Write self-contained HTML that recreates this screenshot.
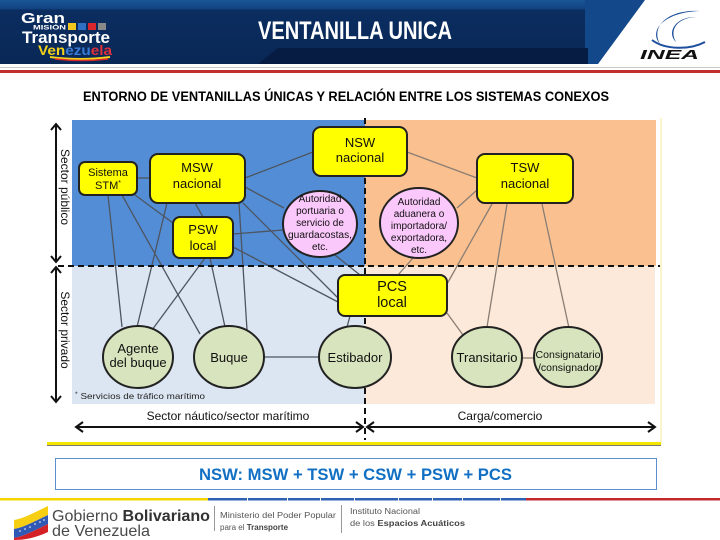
<!DOCTYPE html>
<html><head><meta charset="utf-8"><style>
html,body{margin:0;padding:0;background:#fff;}
svg{display:block;}
text{font-family:"Liberation Sans",sans-serif;}
</style></head><body>
<svg width="720" height="540" viewBox="0 0 720 540" xmlns="http://www.w3.org/2000/svg">
<defs>
<linearGradient id="hdr" x1="0" y1="0" x2="0" y2="1">
<stop offset="0" stop-color="#1a5596"/><stop offset="0.13" stop-color="#124583"/><stop offset="0.16" stop-color="#0b2d60"/><stop offset="1" stop-color="#092856"/>
</linearGradient>
</defs>
<rect x="0" y="0" width="720" height="540" fill="#fff"/>
<!-- Header -->
<rect x="0" y="0" width="720" height="64" fill="url(#hdr)"/>
<polygon points="585,0 650,0 600,64 585,64" fill="#13498a"/>
<polygon points="258,64 278,48 588,48 588,64" fill="#061c42"/>
<polygon points="645,0 720,0 720,64 598,64" fill="#fff"/>
<rect x="0" y="67" width="720" height="1" fill="#ccc"/>
<rect x="0" y="70" width="720" height="3" fill="#c0302f"/>
<!-- left logo -->
<text x="21" y="23" font-size="15" font-weight="bold" fill="#fff" textLength="44" lengthAdjust="spacingAndGlyphs">Gran</text>
<text x="33" y="29.5" font-size="6" font-weight="bold" fill="#fff" textLength="33" lengthAdjust="spacingAndGlyphs">MISIÓN</text>
<rect x="68" y="23" width="8" height="7" fill="#f2c81e"/>
<rect x="78" y="23" width="8" height="7" fill="#2f6fc4"/>
<rect x="88" y="23" width="8" height="7" fill="#d8262c"/>
<rect x="98" y="23" width="8" height="7" fill="#888"/>
<text x="22" y="43" font-size="17" font-weight="bold" fill="#fff" textLength="88" lengthAdjust="spacingAndGlyphs">Transporte</text>
<text x="38" y="55" font-size="14" font-weight="bold" textLength="74" lengthAdjust="spacingAndGlyphs"><tspan fill="#f2d21a">Ven</tspan><tspan fill="#3a7bd5">ezu</tspan><tspan fill="#e0303a">ela</tspan></text>
<path d="M50,57 Q80,61 110,57" stroke="#f2d21a" stroke-width="2" fill="none"/>
<path d="M55,59 Q82,62 108,59" stroke="#d8262c" stroke-width="1.5" fill="none"/>
<!-- title -->
<text x="258" y="39" font-size="25" font-weight="bold" fill="#fff" textLength="194" lengthAdjust="spacingAndGlyphs">VENTANILLA UNICA</text>
<!-- INEA logo -->
<path d="M700,11 C670,9 650,25 660,44 C648,30 665,12 700,11 Z" fill="#1d4f9c"/>
<path d="M697,17 C680,17 668,28 676,42 C666,32 676,16 697,17 Z" fill="#1d4f9c"/>
<path d="M652,40 C665,50 690,50 705,42" stroke="#1d4f9c" stroke-width="2" fill="none"/>
<text x="640" y="59" font-size="13" font-weight="bold" font-style="italic" fill="#111" textLength="59" lengthAdjust="spacingAndGlyphs">INEA</text>

<!-- subtitle -->
<text x="83" y="101" font-size="13.5" font-weight="bold" fill="#000" textLength="526" lengthAdjust="spacingAndGlyphs">ENTORNO DE VENTANILLAS ÚNICAS Y RELACIÓN ENTRE LOS SISTEMAS CONEXOS</text>

<!-- diagram regions -->
<rect x="72" y="120" width="293" height="146" fill="#538dd5"/>
<rect x="365" y="120" width="291" height="146" fill="#fac090"/>
<rect x="72" y="266" width="293" height="138" fill="#dce6f2"/>
<rect x="365" y="266" width="290" height="138" fill="#fde9d9"/>
<line x1="661" y1="118" x2="661" y2="444" stroke="#f3ea9a" stroke-width="1"/>

<!-- connectors -->
<g stroke="#4d5560" stroke-width="1.3" fill="none">
<line x1="137" y1="178" x2="150" y2="178"/>
<line x1="245" y1="178" x2="313" y2="152"/>
<line x1="245" y1="187" x2="284" y2="208"/>
<line x1="233" y1="234" x2="283" y2="230"/>
<line x1="108" y1="195" x2="122" y2="327"/>
<line x1="122" y1="195" x2="200" y2="334"/>
<line x1="135" y1="195" x2="173" y2="223"/>
<line x1="167" y1="203" x2="137" y2="327"/>
<line x1="195" y1="203" x2="203" y2="217"/>
<line x1="239" y1="203" x2="247" y2="330"/>
<line x1="243" y1="203" x2="338" y2="298"/>
<line x1="233" y1="247" x2="338" y2="302"/>
<line x1="205" y1="258" x2="152" y2="330"/>
<line x1="210" y1="258" x2="225" y2="327"/>
<line x1="335" y1="255" x2="360" y2="275"/>
<line x1="350" y1="316" x2="347" y2="327"/>
<line x1="264" y1="357" x2="319" y2="357"/>
</g>
<g stroke="#8a7e74" stroke-width="1.3" fill="none">
<line x1="407" y1="152" x2="477" y2="178"/>
<line x1="477" y1="190" x2="457" y2="208"/>
<line x1="413" y1="258" x2="398" y2="275"/>
<line x1="492" y1="204" x2="447" y2="284"/>
<line x1="507" y1="204" x2="487" y2="327"/>
<line x1="542" y1="204" x2="569" y2="328"/>
<line x1="447" y1="313" x2="463" y2="335"/>
<line x1="523" y1="358" x2="534" y2="358"/>
</g>

<!-- dashed separators -->
<line x1="58" y1="266" x2="660" y2="266" stroke="#111" stroke-width="2" stroke-dasharray="6,4"/>
<line x1="365" y1="118" x2="365" y2="440" stroke="#111" stroke-width="2" stroke-dasharray="6,4"/>

<!-- yellow boxes -->
<g fill="#ffff00" stroke="#222" stroke-width="2">
<rect x="79" y="162" width="58" height="33" rx="6"/>
<rect x="150" y="154" width="95" height="49" rx="8"/>
<rect x="173" y="217" width="60" height="41" rx="7"/>
<rect x="313" y="127" width="94" height="49" rx="8"/>
<rect x="477" y="154" width="96" height="49" rx="8"/>
<rect x="338" y="275" width="109" height="41" rx="7"/>
</g>
<g font-size="11" fill="#111" text-anchor="middle">
<text x="108" y="176">Sistema</text>
<text x="108" y="189">STM<tspan font-size="7" dy="-4">*</tspan></text>
</g>
<g font-size="13" fill="#111" text-anchor="middle">
<text x="197" y="172">MSW</text>
<text x="197" y="188">nacional</text>
<text x="203" y="234">PSW</text>
<text x="203" y="250">local</text>
<text x="360" y="147">NSW</text>
<text x="360" y="162">nacional</text>
<text x="525" y="172">TSW</text>
<text x="525" y="188">nacional</text>
</g>
<g font-size="14.5" fill="#111" text-anchor="middle">
<text x="392" y="291">PCS</text>
<text x="392" y="307">local</text>
</g>

<!-- pink circles -->
<g fill="#fbc8fb" stroke="#222" stroke-width="2">
<ellipse cx="320" cy="224" rx="37" ry="33"/>
<ellipse cx="419" cy="223" rx="39" ry="35"/>
</g>
<g font-size="10" fill="#111" text-anchor="middle">
<text x="320" y="202">Autoridad</text>
<text x="320" y="214">portuaria o</text>
<text x="320" y="226">servicio de</text>
<text x="320" y="238" textLength="64" lengthAdjust="spacingAndGlyphs">guardacostas,</text>
<text x="320" y="250">etc.</text>
<text x="419" y="205">Autoridad</text>
<text x="419" y="217">aduanera o</text>
<text x="419" y="229">importadora/</text>
<text x="419" y="241">exportadora,</text>
<text x="419" y="253">etc.</text>
</g>

<!-- green ellipses -->
<g fill="#d7e4bd" stroke="#222" stroke-width="2">
<ellipse cx="138" cy="357" rx="35" ry="31"/>
<ellipse cx="229" cy="357" rx="35" ry="31"/>
<ellipse cx="355" cy="357" rx="36" ry="31"/>
<ellipse cx="487" cy="357" rx="35" ry="30"/>
<ellipse cx="568" cy="357" rx="34" ry="30"/>
</g>
<g font-size="13" fill="#111" text-anchor="middle">
<text x="138" y="353">Agente</text>
<text x="138" y="367">del buque</text>
<text x="229" y="362">Buque</text>
<text x="355" y="362">Estibador</text>
<text x="487" y="362">Transitario</text>
</g>
<g font-size="10.5" fill="#111" text-anchor="middle">
<text x="568" y="358" textLength="65" lengthAdjust="spacingAndGlyphs">Consignatario</text>
<text x="568" y="371">/consignador</text>
</g>

<text x="75" y="399" font-size="8.5" fill="#222" textLength="130" lengthAdjust="spacingAndGlyphs"><tspan font-size="6" dy="-3">*</tspan><tspan dy="3"> Servicios de tráfico marítimo</tspan></text>

<!-- arrows -->
<g stroke="#111" stroke-width="2" fill="none">
<line x1="56" y1="124" x2="56" y2="262"/>
<polyline points="51,130 56,124 61,130"/>
<polyline points="51,256 56,262 61,256"/>
<line x1="56" y1="267" x2="56" y2="402"/>
<polyline points="51,273 56,267 61,273"/>
<polyline points="51,396 56,402 61,396"/>
<line x1="76" y1="427" x2="363" y2="427"/>
<polyline points="83,422 76,427 83,432"/>
<polyline points="356,422 363,427 356,432"/>
<line x1="367" y1="427" x2="655" y2="427"/>
<polyline points="374,422 367,427 374,432"/>
<polyline points="648,422 655,427 648,432"/>
</g>
<text x="61" y="187" font-size="12" fill="#111" text-anchor="middle" transform="rotate(90 61 187)">Sector público</text>
<text x="61" y="330" font-size="12" fill="#111" text-anchor="middle" transform="rotate(90 61 330)">Sector privado</text>
<text x="228" y="420" font-size="12" fill="#111" text-anchor="middle">Sector náutico/sector marítimo</text>
<text x="500" y="420" font-size="12" fill="#111" text-anchor="middle">Carga/comercio</text>

<rect x="47" y="442" width="614" height="3" fill="#f2e600"/>
<rect x="47" y="445" width="614" height="1" fill="#777"/>

<!-- formula box -->
<rect x="55.5" y="458.5" width="601" height="31" fill="#fff" stroke="#5b8fd0" stroke-width="1"/>
<text x="199" y="480" font-size="17" font-weight="bold" fill="#1170c4" textLength="313" lengthAdjust="spacingAndGlyphs">NSW: MSW + TSW + CSW + PSW + PCS</text>

<!-- footer stripe -->
<rect x="0" y="498" width="208" height="2.5" fill="#f5d400"/>
<rect x="208" y="498" width="318" height="2.5" fill="#2d62b3"/>
<rect x="526" y="498" width="194" height="2.5" fill="#c3282d"/>
<g fill="#fff">
<rect x="247" y="498" width="1" height="2.5"/><rect x="287" y="498" width="1" height="2.5"/>
<rect x="320" y="498" width="1" height="2.5"/><rect x="354" y="498" width="1" height="2.5"/>
<rect x="398" y="498" width="1" height="2.5"/><rect x="432" y="498" width="1" height="2.5"/>
<rect x="462" y="498" width="1" height="2.5"/><rect x="500" y="498" width="1" height="2.5"/>
</g>
<!-- flag logo -->
<path d="M14,520 C25,518 35,512 48,506 L48,515 C35,521 25,527 14,529 Z" fill="#f6cf12"/>
<path d="M14,529 C25,527 35,521 48,515 L48,524 C35,530 25,536 14,538 Z" fill="#2f59b5"/>
<path d="M14,538 C25,536 35,530 48,524 L48,532 C35,538 25,540 14,540 Z" fill="#d42027"/>
<g fill="#fff"><circle cx="20" cy="531" r="0.8"/><circle cx="25" cy="529" r="0.8"/><circle cx="30" cy="527" r="0.8"/><circle cx="35" cy="524" r="0.8"/><circle cx="40" cy="522" r="0.8"/><circle cx="44" cy="520" r="0.8"/></g>
<text x="52" y="521" font-size="16" fill="#4a4a4a" textLength="158" lengthAdjust="spacingAndGlyphs">Gobierno <tspan font-weight="bold" fill="#333">Bolivariano</tspan></text>
<text x="52" y="536" font-size="16" fill="#4a4a4a" textLength="98" lengthAdjust="spacingAndGlyphs">de Venezuela</text>
<line x1="214.5" y1="506" x2="214.5" y2="531" stroke="#999" stroke-width="1"/>
<text x="220" y="518" font-size="8" fill="#555" textLength="116" lengthAdjust="spacingAndGlyphs">Ministerio del Poder Popular</text>
<text x="220" y="530" font-size="8" fill="#555">para el <tspan font-weight="bold" fill="#444">Transporte</tspan></text>
<line x1="341.5" y1="505" x2="341.5" y2="533" stroke="#999" stroke-width="1"/>
<text x="350" y="514" font-size="8" fill="#555" textLength="70" lengthAdjust="spacingAndGlyphs">Instituto Nacional</text>
<text x="350" y="526" font-size="8" fill="#555" textLength="115" lengthAdjust="spacingAndGlyphs">de los <tspan font-weight="bold" fill="#444">Espacios Acuáticos</tspan></text>
</svg>
</body></html>
